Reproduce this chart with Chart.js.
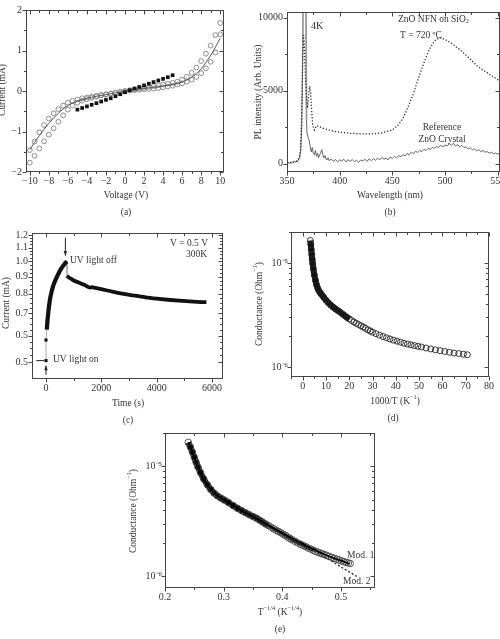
<!DOCTYPE html>
<html><head><meta charset="utf-8">
<script src="https://cdn.jsdelivr.net/npm/chart.js@4.4.1/dist/chart.umd.min.js"></script>
<style>
html,body{margin:0;padding:0;background:#fff;}
body{width:500px;height:639px;overflow:hidden;position:relative;}
canvas{position:absolute;left:0;top:0;}
</style></head><body>
<canvas id="cA" width="500" height="639"></canvas>
<canvas id="cB" width="530" height="639"></canvas>
<canvas id="cC" width="500" height="639"></canvas>
<canvas id="cD" width="500" height="639"></canvas>
<canvas id="cE" width="500" height="639"></canvas>
<script>
// ================= DATA =================
// (a) I-V curves
const ivVoltage = [-10,-9.5,-9,-8.5,-8,-7.5,-7,-6.5,-6,-5.5,-5,-4.5,-4,-3.5,-3,-2.5,-2,-1.5,-1,-0.5,0,0.5,1,1.5,2,2.5,3,3.5,4,4.5,5,5.5,6,6.5,7,7.5,8,8.5,9,9.5,10];
const ivSweepA = [-1.46,-1.25,-1.02,-0.84,-0.68,-0.55,-0.45,-0.36,-0.29,-0.24,-0.21,-0.18,-0.16,-0.14,-0.12,-0.10,-0.08,-0.06,-0.04,-0.02,0.00,0.02,0.04,0.06,0.08,0.10,0.12,0.14,0.16,0.18,0.20,0.23,0.28,0.35,0.45,0.58,0.74,0.92,1.12,1.38,1.68];
const ivSweepB = [-1.77,-1.60,-1.42,-1.24,-1.08,-0.92,-0.76,-0.60,-0.46,-0.36,-0.29,-0.24,-0.20,-0.17,-0.14,-0.11,-0.09,-0.07,-0.05,-0.03,-0.01,0.01,0.02,0.03,0.04,0.05,0.06,0.07,0.09,0.11,0.13,0.16,0.19,0.23,0.28,0.35,0.44,0.56,0.72,0.95,1.40];
const ivFitV = [-10,-9,-8,-7,-6,-5,-4,-3,-2,-1,0,1,2,3,4,5,6,7,8,9,10];
const ivFitI = [-1.45,-1.10,-0.80,-0.55,-0.36,-0.25,-0.18,-0.13,-0.09,-0.045,0,0.03,0.06,0.09,0.12,0.16,0.22,0.34,0.55,0.88,1.30];
const ivSquareV = [-5,-4.5,-4,-3.5,-3,-2.5,-2,-1.5,-1,-0.5,0,0.5,1,1.5,2,2.5,3,3.5,4,4.5,5];
const ivSquareI = [-0.46,-0.42,-0.38,-0.34,-0.30,-0.26,-0.22,-0.18,-0.13,-0.08,-0.03,0.02,0.06,0.10,0.14,0.18,0.22,0.26,0.30,0.34,0.39];
const aXTicks = [-10,-8,-6,-4,-2,0,2,4,6,8,10];
const aYTicks = [-2,-1,0,1,2];

// (b) PL spectra
const refWl = [350,351,352,353,354,355,356,357,358,359,360,361,362,363,364,365,365.5,367,368,368.5,369,370,371,372,373,374,375,376,377,378,379,380,381,382,383,384,385,386,387,388,389,390,392,394,396,398,400,402,404,406,408,410,412,414,416,418,420,422,424,426,428,430,432,434,436,438,440,442,444,446,448,450,452,454,456,458,460,462,464,466,468,470,472,474,476,478,480,482,484,486,488,490,492,494,496,498,500,502,504,506,508,510,512,514,516,518,520,522,524,526,528,530,532,534,536,538,540,542,544,546,548,550,552];
const refI = [30,80,20,90,60,120,70,150,100,180,140,260,400,900,2500,8000,14000,14000,11000,3000,2100,1800,1600,1200,800,1100,700,600,900,500,700,400,600,750,950,600,400,550,300,250,400,200,320,150,280,120,250,180,300,120,260,150,280,130,220,90,250,180,300,150,330,200,350,220,380,260,420,300,380,250,450,350,500,380,550,450,620,520,700,600,780,680,850,760,900,820,980,900,1050,980,1100,1050,1180,1100,1250,1150,1280,1200,1350,1250,1400,1200,1300,1150,1250,1100,1150,1000,1080,950,1000,880,950,820,900,780,820,720,780,680,720,650,680];
const nfnWl = [350,352,354,356,358,360,362,363,364,365,365.7,366.5,367.5,368.5,369.5,370.5,371.5,372.5,373.5,374.5,376,378,380,385,390,395,400,410,420,430,440,450,455,460,465,470,475,480,485,490,495,500,505,510,515,520,525,530,535,540,545,550,552];
const nfnI = [50,80,60,100,120,200,450,1000,3500,7500,8800,8000,6000,4500,3800,4600,5300,4800,3500,2600,2300,2600,2550,2400,2300,2200,2150,2080,2030,2030,2100,2300,2600,3100,3900,4800,5900,6900,7800,8400,8630,8500,8300,8030,7750,7420,7080,6720,6450,6230,5980,5750,5650];
const bXTicks = [350,400,450,500,550];
const bYTicks = [0,5000,10000];

// (c) photocurrent transient
const onT = [0,0];
const onI = [0.505,0.582];
const riseT = [30,50,80,110,150,200,260,330,400,480,560,640,700,760];
const riseI = [0.625,0.66,0.70,0.735,0.775,0.81,0.845,0.875,0.90,0.93,0.955,0.975,0.99,1.0];
const decayT = [760,800,900,1000,1200,1400,1600,1650,1700,2000,2400,2800,3200,3600,4000,4400,4800,5200,5600,5800];
const decayI = [0.905,0.898,0.888,0.877,0.864,0.85,0.835,0.838,0.836,0.826,0.812,0.80,0.79,0.781,0.774,0.768,0.763,0.759,0.756,0.755];
const cXTicks = [0,2000,4000,6000];
const cYTicks = [0.5,0.6,0.7,0.8,0.9,1.0,1.1,1.2];
const cYLabels = ['0.5','0.5','0.7','0.8','0.9','1.0','1.1','1.2'];

// (d),(e) conductance vs temperature
const invT = [3.3,3.5,3.7,3.9,4.1,4.3,4.6,5.0,5.5,6.0,6.5,7.0,7.6,8.2,9.0,10,11,12,13,14,15,16,17,18,19,20,21,22,23,24,25,26,27,28,29,30,31.5,33,34.5,36,37.5,39,40.5,42,43.5,45,46.5,48,49.5,51,53,55,57,59,61,63,65,67,69,70.7];
const tQuarter = [0.2397,0.2432,0.2466,0.2499,0.2530,0.2561,0.2604,0.2659,0.2723,0.2783,0.2839,0.2893,0.2953,0.3009,0.3080,0.3162,0.3238,0.3310,0.3377,0.3440,0.3500,0.3557,0.3611,0.3663,0.3713,0.3761,0.3807,0.3851,0.3894,0.3936,0.3976,0.4016,0.4054,0.4091,0.4127,0.4162,0.4213,0.4262,0.4310,0.4356,0.4401,0.4444,0.4486,0.4527,0.4567,0.4606,0.4644,0.4681,0.4717,0.4752,0.4798,0.4843,0.4886,0.4929,0.4970,0.5010,0.5049,0.5088,0.5125,0.5157];
const conductance = [1.65e-5,1.50e-5,1.35e-5,1.21e-5,1.09e-5,9.9e-6,8.8e-6,7.7e-6,6.8e-6,6.15e-6,5.7e-6,5.4e-6,5.15e-6,4.95e-6,4.7e-6,4.4e-6,4.15e-6,3.95e-6,3.78e-6,3.63e-6,3.5e-6,3.38e-6,3.25e-6,3.12e-6,3.0e-6,2.9e-6,2.8e-6,2.71e-6,2.63e-6,2.56e-6,2.49e-6,2.42e-6,2.35e-6,2.28e-6,2.22e-6,2.16e-6,2.09e-6,2.02e-6,1.96e-6,1.91e-6,1.86e-6,1.81e-6,1.77e-6,1.73e-6,1.69e-6,1.66e-6,1.63e-6,1.605e-6,1.58e-6,1.555e-6,1.52e-6,1.49e-6,1.46e-6,1.435e-6,1.41e-6,1.385e-6,1.36e-6,1.345e-6,1.325e-6,1.31e-6];
const mod1X = [0.2397,0.245,0.25,0.256,0.265,0.275,0.29,0.31,0.33,0.35,0.37,0.39,0.41,0.43,0.45,0.47,0.49,0.505,0.515];
const mod1G = [1.65e-5,1.42e-5,1.2e-5,9.9e-6,7.8e-6,6.5e-6,5.4e-6,4.65e-6,3.98e-6,3.5e-6,3.03e-6,2.66e-6,2.32e-6,2.04e-6,1.8e-6,1.6e-6,1.45e-6,1.36e-6,1.3e-6];
const mod2X = [0.40,0.42,0.44,0.46,0.48,0.50,0.515,0.527];
const mod2G = [2.45e-6,2.15e-6,1.87e-6,1.63e-6,1.42e-6,1.22e-6,1.09e-6,1.0e-6];
const dXTicks = [0,10,20,30,40,50,60,70,80];
const eXTicks = [0.2,0.3,0.4,0.5];
const logTicks = [1e-6,1e-5];
const logLabels = ['10\u207B\u2076','10\u207B\u2075'];

// ================= HELPERS =================
const FONT = "'Liberation Serif','Times New Roman',serif";
const TXT = '#333';
Chart.defaults.font.family = FONT;
Chart.defaults.font.size = 10;
Chart.defaults.color = TXT;

const pts = (xs, ys) => xs.map((x, i) => ({x, y: ys[i]}));
const S = t => [{t}];

function drawRich(ctx, segs, x, y, size, rot, align) {
  ctx.save();
  ctx.translate(x, y);
  if (rot) ctx.rotate(rot);
  ctx.fillStyle = TXT;
  ctx.textBaseline = 'middle';
  ctx.textAlign = 'left';
  const small = size * 0.66;
  const w = segs.map(s => { ctx.font = ((s.sup || s.sub) ? small : size) + 'px ' + FONT; return ctx.measureText(s.t).width; });
  const total = w.reduce((a, b) => a + b, 0);
  let cx = align === 'center' ? -total / 2 : align === 'right' ? -total : 0;
  segs.forEach((s, i) => {
    ctx.font = ((s.sup || s.sub) ? small : size) + 'px ' + FONT;
    const dy = s.sup ? -size * 0.38 : s.sub ? size * 0.3 : 0;
    ctx.fillText(s.t, cx, dy);
    cx += w[i];
  });
  ctx.restore();
}

const decoPlugin = {
  id: 'deco',
  afterDraw(chart, args, o) {
    const ctx = chart.ctx, a = chart.chartArea, xs = chart.scales.x, ys = chart.scales.y;
    ctx.save();
    ctx.strokeStyle = '#444';
    ctx.lineWidth = 1;
    const L = Math.round(a.left) + 0.5, R = Math.round(a.right) - 0.5, T = Math.round(a.top) + 0.5, B = Math.round(a.bottom) - 0.5;
    ctx.strokeRect(L, T, R - L, B - T);
    const line = (x1, y1, x2, y2) => { ctx.beginPath(); ctx.moveTo(x1, y1); ctx.lineTo(x2, y2); ctx.stroke(); };
    const xt = (vals, len) => (vals || []).forEach(v => { const p = Math.round(xs.getPixelForValue(v)) + 0.5; line(p, B, p, B + len); line(p, T, p, T + len); });
    const yt = (vals, len) => (vals || []).forEach(v => { const p = Math.round(ys.getPixelForValue(v)) + 0.5; line(L - len, p, L, p); line(R - len, p, R, p); });
    xt(o.xMajor, 4); xt(o.xMinor, 2.5); yt(o.yMajor, 4); yt(o.yMinor, 2.5);
    (o.lines || []).forEach(l => {
      const x1 = xs.getPixelForValue(l.x1), y1 = ys.getPixelForValue(l.y1), x2 = xs.getPixelForValue(l.x2), y2 = ys.getPixelForValue(l.y2);
      ctx.strokeStyle = '#222'; ctx.lineWidth = 1;
      line(x1, y1, x2, y2);
      if (l.head) {
        const ang = Math.atan2(y2 - y1, x2 - x1), h = 5;
        ctx.fillStyle = '#222';
        ctx.beginPath();
        ctx.moveTo(x2, y2);
        ctx.lineTo(x2 - h * Math.cos(ang - 0.35), y2 - h * Math.sin(ang - 0.35));
        ctx.lineTo(x2 - h * Math.cos(ang + 0.35), y2 - h * Math.sin(ang + 0.35));
        ctx.closePath(); ctx.fill();
      }
    });
    (o.texts || []).forEach(t => drawRich(ctx, t.segs, t.x, t.y, t.size || 9.5, t.rot || 0, t.align || 'center'));
    ctx.restore();
  }
};

function axis(type, min, max, ticks, labelFn, size, isX, pad) {
  return {
    type, min, max, bounds: 'data',
    position: isX ? 'bottom' : 'left',
    grid: { display: false, drawTicks: false },
    border: { display: false },
    ticks: { autoSkip: false, maxRotation: 0, minRotation: 0, padding: pad, color: TXT, font: { size: 10 }, callback: labelFn },
    afterBuildTicks: s => { s.ticks = ticks.map(v => ({ value: v })); },
    afterFit: s => { if (isX) s.height = size; else s.width = size; s.paddingLeft = 0; s.paddingRight = 0; s.paddingTop = 0; s.paddingBottom = 0; }
  };
}

function panel(id, cw, area, yW, xH, xAxis, yAxis, datasets, deco) {
  const [L, T, R, B] = area;
  return new Chart(document.getElementById(id), {
    type: 'scatter',
    data: { datasets },
    options: {
      responsive: false, animation: false, events: [],
      layout: { padding: { left: L - yW, top: T, right: cw - R, bottom: 639 - B - xH } },
      scales: { x: xAxis, y: yAxis },
      plugins: { legend: { display: false }, tooltip: { enabled: false }, deco }
    },
    plugins: [decoPlugin]
  });
}
const minus = v => String(v).replace('-', '\u2212');
const ROT = -Math.PI / 2;

// ================= (a) =================
panel('cA', 500, [26, 10, 224, 172], 24, 30,
  axis('linear', -10.4, 10.4, aXTicks, v => minus(v), 30, true, 3),
  axis('linear', -2, 2, aYTicks, v => minus(v), 24, false, 4),
  [
    { data: pts(ivSquareV, ivSquareI), pointStyle: 'rect', pointRadius: 2.6, backgroundColor: '#111', borderColor: '#111', borderWidth: 0 },
    { data: pts(ivFitV, ivFitI), showLine: true, pointRadius: 0, borderColor: '#555', borderWidth: 1, cubicInterpolationMode: 'monotone' },
    { data: pts(ivVoltage, ivSweepA), pointRadius: 2.4, borderColor: '#808080', backgroundColor: 'rgba(0,0,0,0)', borderWidth: 0.9 },
    { data: pts(ivVoltage, ivSweepB), pointRadius: 2.4, borderColor: '#808080', backgroundColor: 'rgba(0,0,0,0)', borderWidth: 0.9 }
  ],
  { xMajor: aXTicks, xMinor: [-9,-7,-5,-3,-1,1,3,5,7,9], yMajor: aYTicks, yMinor: [-1.5,-0.5,0.5,1.5],
    texts: [
      { segs: S('Voltage (V)'), x: 126, y: 195 },
      { segs: S('(a)'), x: 126, y: 212 },
      { segs: S('Current (mA)'), x: 2, y: 90, rot: ROT }
    ] });

// ================= (b) =================
panel('cB', 530, [287, 12, 500, 172], 36, 30,
  axis('linear', 350, 552.2, bXTicks, v => String(v), 30, true, 3),
  axis('linear', -575, 10380, bYTicks, v => String(v), 36, false, 4),
  [
    { data: pts(nfnWl, nfnI), showLine: true, pointRadius: 0, borderColor: '#333', borderWidth: 1.3, borderDash: [1.3, 1.8] },
    { data: pts(refWl, refI), showLine: true, pointRadius: 0, borderColor: '#555', borderWidth: 0.9,
      segment: {
        borderColor: c => (c.p0.parsed.y > 9000 || c.p1.parsed.y > 9000) ? '#9a9a9a' : undefined,
        borderWidth: c => (c.p0.parsed.y > 9000 || c.p1.parsed.y > 9000) ? 1.8 : undefined
      } }
  ],
  { xMajor: bXTicks, xMinor: [375,425,475,525], yMajor: bYTicks, yMinor: [2500,7500],
    texts: [
      { segs: S('Wavelength (nm)'), x: 390, y: 195 },
      { segs: S('(b)'), x: 390, y: 212 },
      { segs: S('PL intensity (Arb. Units)'), x: 258, y: 92, rot: ROT },
      { segs: S('4K'), x: 311, y: 26, align: 'left', size: 10 },
      { segs: [{ t: 'ZnO NFN on SiO' }, { t: '2', sub: true }], x: 398, y: 19, align: 'left' },
      { segs: S('T = 720 \u00BAC'), x: 400, y: 35, align: 'left' },
      { segs: S('Reference'), x: 442, y: 127 },
      { segs: S('ZnO Crystal'), x: 442, y: 139 }
    ] });

// ================= (c) =================
panel('cC', 500, [32, 233, 223, 379], 30, 30,
  axis('linear', -506, 6398, cXTicks, v => String(v), 30, true, 3),
  axis('logarithmic', 0.445, 1.216, cYTicks, (v, i) => cYLabels[i], 30, false, 4),
  [
    { data: pts(onT, onI), pointStyle: 'rect', pointRadius: 2.2, backgroundColor: '#111', borderColor: '#111', borderWidth: 0 },
    { data: pts(riseT, riseI), showLine: true, pointRadius: 0, borderColor: '#111', borderWidth: 4.2, cubicInterpolationMode: 'monotone' },
    { data: pts(decayT, decayI), showLine: true, pointRadius: 0, borderColor: '#111', borderWidth: 3.8, cubicInterpolationMode: 'monotone' },
    { data: [{ x: onT[0], y: onI[0] }, { x: onT[1], y: onI[1] }, { x: riseT[0], y: riseI[0] }], showLine: true, pointRadius: 0, borderColor: '#aaa', borderWidth: 1 },
    { data: [{ x: riseT[riseT.length - 1], y: riseI[riseI.length - 1] }, { x: decayT[0], y: decayI[0] }], showLine: true, pointRadius: 0, borderColor: '#aaa', borderWidth: 1 }
  ],
  { xMajor: cXTicks, xMinor: [1000,3000,5000],
    yMajor: cYTicks, yMinor: [0.525,0.55,0.575,0.625,0.65,0.675,0.725,0.75,0.775,0.825,0.85,0.875,0.925,0.95,0.975,1.025,1.05,1.075,1.125,1.15,1.175],
    lines: [
      { x1: 700, y1: 1.177, x2: 700, y2: 1.04, head: true },
      { x1: 0, y1: 0.458, x2: 0, y2: 0.488, head: true },
      { x1: -350, y1: 0.505, x2: -60, y2: 0.505 }
    ],
    texts: [
      { segs: S('Time (s)'), x: 128, y: 403 },
      { segs: S('(c)'), x: 128, y: 420 },
      { segs: S('Current (mA)'), x: 6, y: 303, rot: ROT },
      { segs: S('V = 0.5 V'), x: 208, y: 243, align: 'right' },
      { segs: S('300K'), x: 207, y: 254, align: 'right' },
      { segs: S('UV light off'), x: 70, y: 260, align: 'left' },
      { segs: S('UV light on'), x: 53, y: 359, align: 'left' }
    ] });

// ================= (d) =================
const bandN = 26;
const band2N = 44;
const logMinor = [2e-6,3e-6,4e-6,5e-6,6e-6,7e-6,8e-6,9e-6,2e-5];
panel('cD', 500, [291, 232, 489, 377], 30, 30,
  axis('linear', -5, 80, dXTicks, v => String(v), 30, true, 3),
  axis('logarithmic', 8.0e-7, 1.99e-5, logTicks, (v, i) => logLabels[i], 30, false, 3),
  [
    { data: pts(invT, conductance), pointRadius: 3, borderColor: '#222', backgroundColor: 'rgba(0,0,0,0)', borderWidth: 0.9 },
    { data: pts(invT.slice(0, bandN), conductance.slice(0, bandN)), showLine: true, pointRadius: 0, borderColor: '#111', borderWidth: 6, cubicInterpolationMode: 'monotone' }
  ],
  { xMajor: dXTicks, xMinor: [-5,5,15,25,35,45,55,65,75], yMajor: logTicks, yMinor: logMinor,
    texts: [
      { segs: [{ t: '1000/T (K' }, { t: '\u22121', sup: true }, { t: ')' }], x: 395, y: 401 },
      { segs: S('(d)'), x: 393, y: 418 },
      { segs: [{ t: 'Conductance (Ohm' }, { t: '\u22121', sup: true }, { t: ')' }], x: 259, y: 304, rot: ROT }
    ] });

// ================= (e) =================
panel('cE', 500, [165, 433, 375, 588], 30, 30,
  axis('linear', 0.2, 0.558, eXTicks, v => String(v), 30, true, 3),
  axis('logarithmic', 7.85e-7, 2.01e-5, logTicks, (v, i) => logLabels[i], 30, false, 3),
  [
    { data: pts(mod1X, mod1G), showLine: true, pointRadius: 0, borderColor: '#000', borderWidth: 1.8, cubicInterpolationMode: 'monotone' },
    { data: pts(tQuarter, conductance), pointRadius: 3.3, borderColor: '#444', backgroundColor: 'rgba(0,0,0,0)', borderWidth: 0.9 },
    { data: pts(mod2X, mod2G), showLine: true, pointRadius: 0, borderColor: '#222', borderWidth: 1.3, borderDash: [2, 2] },
    { data: pts(tQuarter.slice(0, bandN), conductance.slice(0, bandN)), showLine: true, pointRadius: 0, borderColor: '#111', borderWidth: 6, cubicInterpolationMode: 'monotone' },
    { data: pts(tQuarter.slice(bandN - 1, band2N), conductance.slice(bandN - 1, band2N)), showLine: true, pointRadius: 0, borderColor: '#222', borderWidth: 3.5, cubicInterpolationMode: 'monotone' }
  ],
  { xMajor: eXTicks, xMinor: [0.25,0.35,0.45,0.55], yMajor: logTicks, yMinor: logMinor,
    texts: [
      { segs: [{ t: 'T' }, { t: '\u22121/4', sup: true }, { t: ' (K' }, { t: '\u22121/4', sup: true }, { t: ')' }], x: 280, y: 612 },
      { segs: S('(e)'), x: 280, y: 629 },
      { segs: [{ t: 'Conductance (Ohm' }, { t: '\u22121', sup: true }, { t: ')' }], x: 133, y: 511, rot: ROT },
      { segs: S('Mod. 1'), x: 347, y: 555, align: 'left' },
      { segs: S('Mod. 2'), x: 343, y: 581, align: 'left' }
    ] });
</script>
</body></html>
